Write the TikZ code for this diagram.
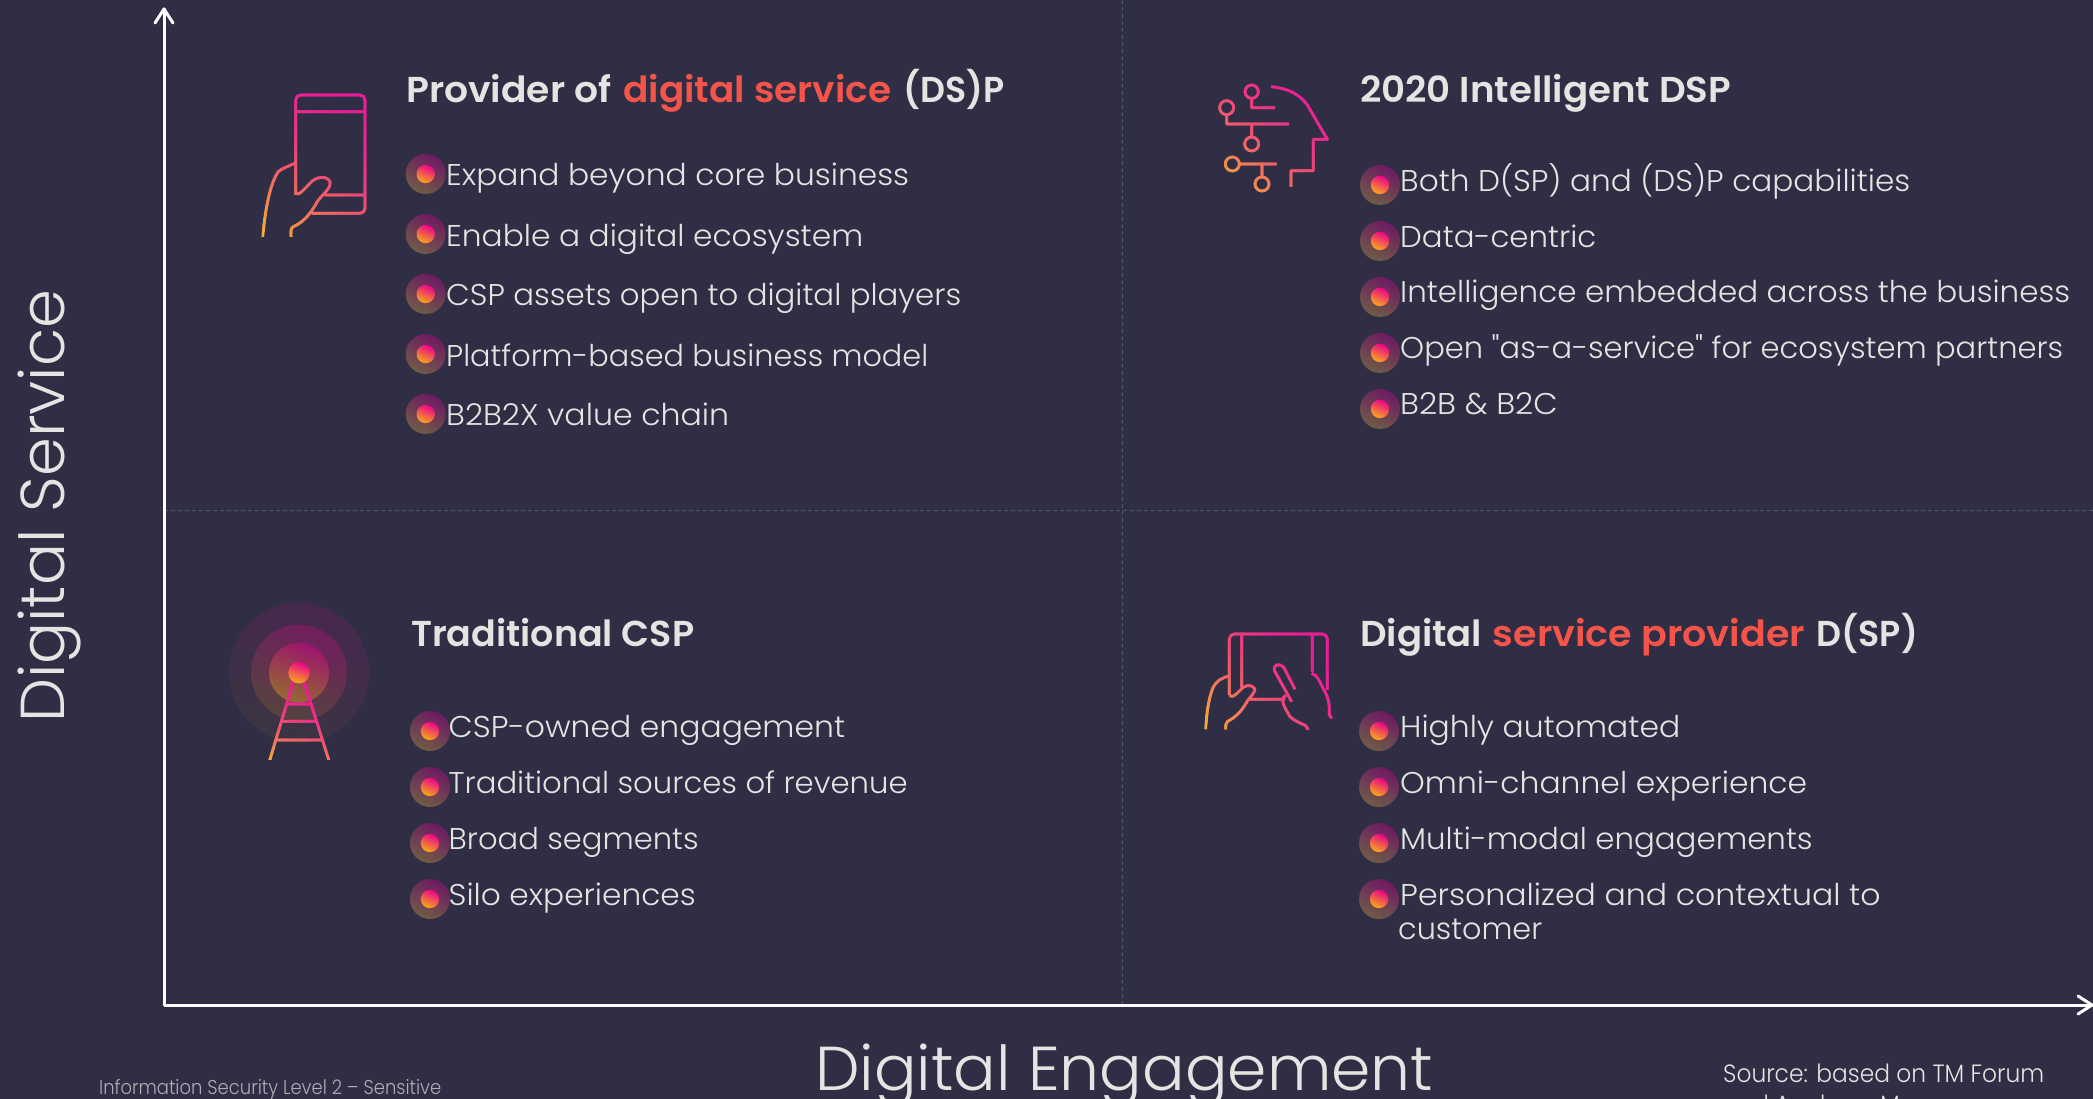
\documentclass[tikz,border=0pt]{standalone}
\usepackage{fontspec}
\usepackage{graphicx}
\defaultfontfeatures[\rmfamily]{Ligatures=Common}
\setmainfont{Poppins}[UprightFont=* Light,BoldFont=* SemiBold]
\definecolor{bg}{HTML}{302E45}
\definecolor{txtc}{HTML}{E3E5E2}
\definecolor{redc}{HTML}{F4544A}
\definecolor{gPink}{HTML}{EC008C}
\definecolor{gOrange}{HTML}{F7A81B}
\definecolor{dashc}{HTML}{55556A}
\definecolor{bulTop}{HTML}{6E1A62}
\definecolor{bulBot}{HTML}{6F5C47}
\tikzset{
  x=1pt,y=-1pt,
  body/.style={anchor=base west,inner sep=0pt,text=txtc,font=\fontsize{30}{30}\selectfont},
  head/.style={anchor=base west,inner sep=0pt,text=txtc,font=\fontsize{36}{36}\selectfont\bfseries},
  big/.style={anchor=base west,inner sep=0pt,text=txtc,font=\fontsize{62}{62}\selectfont},
  foot/.style={anchor=base west,inner sep=0pt,text=#1,font=\fontsize{20}{20}\selectfont},
  axisline/.style={draw=white,line width=3pt,line cap=round,line join=round},
  divider/.style={draw=dashc,line width=1pt,dash pattern=on 4pt off 3pt},
  iconln/.style={line width=2.7pt,line cap=butt,line join=round},
}
\newcommand{\fitw}[2]{\resizebox{#1pt}{\height}{#2}}
% bullet: centre x, y, name
\newcommand{\blt}[3]{%
  \shade[top color=bulTop,bottom color=bulBot,shading angle=-25] (#1,#2) circle[radius=20];
  \shade[top color=gPink,bottom color=gOrange,shading angle=-25] (#1,#2) circle[radius=9.2];
  \coordinate (#3) at (#1,#2);}
% gradient-stroked icon: origin x,y of zoom-crop; A; angle; length; paths
\newcommand{\gradicon}[6]{%
 \begin{scope}[xshift=#1pt,yshift=-#2pt,x=0.3333pt,y=-0.3333pt]
 \foreach \k in {0,...,31}{
   \pgfmathsetmacro\xa{\k/32*#5-(\k<1)*3000}
   \pgfmathsetmacro\xb{(\k+2)/32*#5+(\k>29)*3000}
   \pgfmathtruncatemacro\pct{100*(1-\k/31)^1.7}
   \colorlet{bandc}{gOrange!\pct!gPink!88!txtc}
   \begin{scope}
    \clip[shift={#3},rotate=#4] (\xa,-3000) rectangle (\xb,3000);
    \draw[iconln,bandc] #6;
   \end{scope}
 }
 \end{scope}}
\begin{document}
\begin{tikzpicture}
\useasboundingbox (0,0) rectangle (2093,1099);
\fill[bg] (0,0) rectangle (2093,1099);
\clip (0,0) rectangle (2093,1099);
% coordinates for axes
\coordinate (origin) at (164,1005);
\coordinate (ytop) at (164,9);
\coordinate (xend) at (2092,1005);
\coordinate (vt) at (1122.5,0);
\coordinate (vb) at (1122.5,1005);
\coordinate (hl) at (164,510);
\coordinate (hr) at (2093,510);
\draw[divider] (vt) -- (vb);
\draw[divider] (hl) -- (hr);
\draw[axisline] (ytop) -- (origin) -- (xend);
\draw[axisline] (155,23) -- (ytop) -- (173,23);
\draw[axisline] (2078,996) -- (xend) -- (2078,1014);
% axis titles
\node[big,rotate=90] (ylab) at (64,723) {\fitw{433}{Digital Service}};
\node[big] (xlab) at (815,1090) {\fitw{618}{Digital Engagement}};
\node[foot=txtc!70!bg] (sens) at (99,1094) {\fitw{342}{Information Security Level 2 – Sensitive}};
\node[foot=txtc,font=\fontsize{25}{25}\selectfont] (src1) at (1723,1082) {\fitw{321}{Source: based on TM Forum}};
\node[foot=txtc,font=\fontsize{25}{25}\selectfont] (src2) at (1723,1113) {\fitw{233}{and Analysys Mason}};
% headings
\node[head] (t1) at (406,103) {\mbox{\fitw{205}{Provider of}\hspace{12pt}\textcolor{redc}{\fitw{268}{digital service}}\hspace{12pt}\fitw{101}{(DS)P}}};
\node[head] (t2) at (1360,103) {\fitw{371}{2020 Intelligent DSP}};
\node[head] (t3) at (411,646) {\fitw{283}{Traditional CSP}};
\node[head] (t4) at (1360,646) {\mbox{\fitw{122}{Digital}\hspace{10.7pt}\textcolor{redc}{\fitw{312}{service provider}}\hspace{12pt}\fitw{101}{D(SP)}}};
% quadrant 1
\blt{425.7}{174}{b11}\blt{425.7}{234}{b12}\blt{425.7}{294}{b13}\blt{425.7}{354}{b14}\blt{425.7}{414}{b15}
\node[body] (a1) at (446,186) {\fitw{463}{Expand beyond core business}};
\node[body] (a2) at (446,247) {\fitw{417}{Enable a digital ecosystem}};
\node[body] (a3) at (446,306) {\fitw{515}{CSP assets open to digital players}};
\node[body] (a4) at (446,366) {\fitw{482}{Platform-based business model}};
\node[body] (a5) at (446,425) {\fitw{283}{B2B2X value chain}};
% quadrant 2
\blt{1380}{185}{b21}\blt{1380}{241}{b22}\blt{1380}{297}{b23}\blt{1380}{353}{b24}\blt{1380}{409}{b25}
\node[body] (c1) at (1400,191.5) {\fitw{510}{Both D(SP) and (DS)P capabilities}};
\node[body] (c2) at (1400,248) {\fitw{196}{Data-centric}};
\node[body] (c3) at (1400,303) {\fitw{670}{Intelligence embedded across the business}};
\node[body] (c4) at (1400,358) {\fitw{663}{Open "as-a-service" for ecosystem partners}};
\node[body] (c5) at (1400,414) {\fitw{157.5}{B2B \& B2C}};
% quadrant 3
\blt{430}{731}{b31}\blt{430}{787}{b32}\blt{430}{843}{b33}\blt{430}{899}{b34}
\node[body] (d1) at (448.5,737) {\fitw{396.5}{CSP-owned engagement}};
\node[body] (d2) at (448.5,793) {\fitw{459}{Traditional sources of revenue}};
\node[body] (d3) at (448.5,849) {\fitw{250}{Broad segments}};
\node[body] (d4) at (448.5,905) {\fitw{247}{Silo experiences}};
% quadrant 4
\blt{1379}{731}{b41}\blt{1379}{787}{b42}\blt{1379}{843}{b43}\blt{1379}{899}{b44}
\node[body] (e1) at (1400,737) {\fitw{280}{Highly automated}};
\node[body] (e2) at (1400,793) {\fitw{407}{Omni-channel experience}};
\node[body] (e3) at (1400,849) {\fitw{412.5}{Multi-modal engagements}};
\node[body] (e4) at (1400,905) {\fitw{480.5}{Personalized and contextual to}};
\node[body] (e5) at (1398,939) {\fitw{144}{customer}};
% phone icon
\begin{scope}
\clip (230,40) rectangle (530,237);
\gradicon{230}{40}{(95,590)}{55}{520}{
 [rounded corners=5pt] (197,465) -- (197,165) -- (405,165) -- (405,520) -- (245,520) [sharp corners]
 (197,215) -- (405,215)
 (285,465) -- (405,465)
 (197,460) .. controls (205,470) and (225,445) .. (240,430) .. controls (255,410) and (290,405) .. (300,425) .. controls (305,445) and (275,465) .. (262,485) .. controls (245,515) and (225,545) .. (190,560) .. controls (180,565) and (183,580) .. (183,595)
 (197,368) .. controls (175,380) and (155,385) .. (145,395) .. controls (120,430) and (105,510) .. (98,595)}
\end{scope}
% head icon
\gradicon{1190}{60}{(95,390)}{50}{440}{
 (185,95) circle[radius=20] (185,115) -- (185,143) -- (255,143)
 (110,143) circle[radius=21] (110,164) -- (110,192) -- (297,192) (185,192) -- (185,231) (185,252) circle[radius=21]
 (127,312) circle[radius=21] (148,312) -- (260,312) (216,312) -- (216,351) (216,372) circle[radius=21]
 (243,80) .. controls (290,85) and (330,100) .. (355,140) -- (412,238) -- (370,238) -- (370,332) -- (303,332) -- (303,380)}
% tower
\shade[top color=gPink!12!bg,bottom color=gOrange!5!bg,shading angle=-20] (299,672.7) circle[radius=70];
\shade[top color=gPink!35!bg,bottom color=gOrange!18!bg,shading angle=-20] (299,672.7) circle[radius=48];
\shade[top color=gPink!58!bg,bottom color=gOrange!50!bg,shading angle=-20] (299,672.7) circle[radius=30];
\begin{scope}
\clip (210,590) rectangle (470,759);
\begin{scope}[line width=2pt]
\gradicon{210}{590}{(180,520)}{70}{260}{
 (250,275) -- (178,515) (282,275) -- (358,515)
 (230,342) -- (303,342) (215,394) -- (318,394) (198,450) -- (335,450)}
\end{scope}
\end{scope}
\shade[top color=gPink,bottom color=gOrange,shading angle=-20] (299,672.7) circle[radius=10.7];
% tablet icon
\begin{scope}
\clip (1190,610) rectangle (1450,729);
\gradicon{1190}{610}{(45,355)}{40}{440}{
 [rounded corners=5pt] (118,255) -- (118,72) -- (412,72) -- (412,240) [sharp corners]
 (155,72) -- (155,232) (367,72) -- (367,185) (180,268) -- (285,268)
 (118,255) .. controls (125,270) and (145,245) .. (160,232) .. controls (175,220) and (195,230) .. (195,240) .. controls (190,255) and (175,265) .. (165,285) .. controls (150,310) and (130,325) .. (112,335) .. controls (105,340) and (108,350) .. (107,358)
 (118,197) .. controls (95,205) and (80,210) .. (68,235) .. controls (55,270) and (50,310) .. (47,358)
 (305,275) -- (255,185) .. controls (245,165) and (270,155) .. (283,175) -- (315,238)
 (287,256) .. controls (265,270) and (290,300) .. (300,320) .. controls (315,335) and (335,340) .. (347,347) -- (355,360)
 (365,190) .. controls (385,195) and (390,220) .. (402,240) .. controls (420,270) and (418,295) .. (418,315) -- (426,325)}
\end{scope}
\end{tikzpicture}
\end{document}
